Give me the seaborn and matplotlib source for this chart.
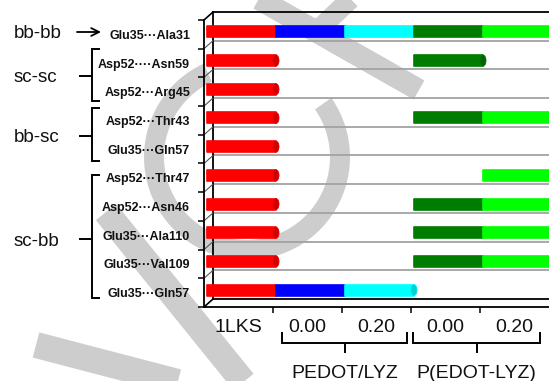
import numpy as np
import pandas as pd
import matplotlib
matplotlib.use("Agg")
import matplotlib.pyplot as plt
from matplotlib.transforms import ScaledTranslation
from matplotlib.patches import Ellipse, Wedge
from matplotlib.lines import Line2D
from matplotlib.ticker import FixedLocator
import seaborn as sns

# Hydrogen bonds (donor···acceptor), listed top to bottom
bond_labels = ["Glu35···Ala31", "Asp52····Asn59", "Asp52···Arg45", "Asp52···Thr43",
               "Glu35···Gln57", "Asp52···Thr47", "Asp52···Asn46", "Glu35···Ala110",
               "Glu35···Val109", "Glu35···Gln57"]

# Bond present (1) or absent (0) in each structure / field strength
lks_1 = [1, 1, 1, 1, 1, 1, 1, 1, 1, 1]
pedot_lyz_000 = [1, 0, 0, 0, 0, 0, 0, 0, 0, 1]
pedot_lyz_020 = [1, 0, 0, 0, 0, 0, 0, 0, 0, 1]
p_edot_lyz_000 = [1, 1, 0, 1, 0, 0, 1, 1, 1, 0]
p_edot_lyz_020 = [1, 0, 0, 1, 0, 1, 1, 1, 1, 0]

segment_labels = ["1LKS", "0.00", "0.20", "0.00", "0.20"]
group_labels = ["PEDOT/LYZ", "P(EDOT-LYZ)"]
bond_types = ["bb-bb", "sc-sc", "bb-sc", "sc-bb"]
segment_colors = ["#ff0000", "#0000ff", "#00ffff", "#007d00", "#00ff00"]

series = [lks_1, pedot_lyz_000, pedot_lyz_020, p_edot_lyz_000, p_edot_lyz_020]
n_rows = len(bond_labels)
n_seg = len(series)

sns.set_theme(style="white")
plt.rcParams["font.family"] = ["Liberation Sans", "DejaVu Sans"]

W, H = 549, 381
DPI = 100
fig = plt.figure(figsize=(W / DPI, H / DPI), dpi=DPI)
fig.patch.set_facecolor("white")


def fx(px):
    return px / W


def fy(py):
    return 1 - py / H


# geometry of the pseudo-3D box (pixels)
FRONT_L, FRONT_T, FRONT_B = 204, 20, 307
UNIT = 69.0
XMAX = 5.3
DEPTH_X, DEPTH_Y = 9, 8
BAR_DX, BAR_DY = 3, 2.5
ROW_PX = (FRONT_B - FRONT_T) / n_rows
ax_w = UNIT * XMAX / W
ax_h = (FRONT_B - FRONT_T) / H

# faint background strokes
bg = fig.add_axes([0, 0, 1, 1], zorder=0)
bg.set_xlim(0, W)
bg.set_ylim(0, H)
bg.axis("off")
wm = "#cdcdcd"
for (x0, y0), (x1, y1), wpx in [((243, -10), (419, 90), 22),
                                ((358, -8), (318, 30), 20),
                                ((106, 212), (258, 400), 26),
                                ((36, 345), (262, 404), 26)]:
    bg.add_line(Line2D([x0, x1], [H - y0, H - y1], lw=wpx * 0.72, color=wm,
                       solid_capstyle="butt"))
bg.add_patch(Wedge((247, H - 157), 103, 115, 395, width=20, color=wm, lw=0))

# back wall
axb = fig.add_axes([fx(FRONT_L + DEPTH_X), fy(FRONT_B - DEPTH_Y), ax_w, ax_h], zorder=1)
axb.patch.set_visible(False)
axb.set_xlim(0, XMAX)
axb.set_ylim(n_rows - 0.5, -0.5)
axb.set_xticks([])
axb.set_yticks([])
for side in ["top", "left", "bottom"]:
    axb.spines[side].set_color("black")
    axb.spines[side].set_linewidth(1.3)
axb.spines["right"].set_visible(False)
axb.hlines(np.arange(0.5, n_rows - 0.5), 0, XMAX, color="#a2a2a2", lw=1.3)

# front frame with the bars
ax = fig.add_axes([fx(FRONT_L), fy(FRONT_B), ax_w, ax_h], zorder=2)
ax.patch.set_visible(False)

for seg in range(n_seg):
    df = pd.DataFrame({"row": list(range(n_rows)), "present": series[seg]})
    df = df[df["present"] > 0]
    sns.barplot(data=df, x="present", y="row", orient="y", order=list(range(n_rows)),
                width=11 / ROW_PX, color=segment_colors[seg], saturation=1,
                errorbar=None, left=seg, ax=ax, linewidth=1.2,
                edgecolor=segment_colors[seg])

shift = ax.transData + ScaledTranslation(BAR_DX / DPI, BAR_DY / DPI, fig.dpi_scale_trans)
for p in ax.patches:
    p.set_transform(shift)
    p.set_joinstyle("round")

# cylinder end caps at the right end of each run of bars
mat = np.array(series).T
for r in range(n_rows):
    for s in range(n_seg):
        if mat[r, s] and (s == n_seg - 1 or not mat[r, s + 1]):
            base = np.array(matplotlib.colors.to_rgb(segment_colors[s]))
            ax.add_patch(Ellipse((s + 1, r), 6 / UNIT, 11 / ROW_PX, transform=shift,
                                 facecolor=base * 0.82, edgecolor=base * 0.9,
                                 lw=0.6, zorder=3))

ax.set_xlim(0, XMAX)
ax.set_ylim(n_rows - 0.5, -0.5)
ax.set_xlabel("")
ax.set_ylabel("")
for side in ["top", "right"]:
    ax.spines[side].set_visible(False)
for side in ["left", "bottom"]:
    ax.spines[side].set_color("black")
    ax.spines[side].set_linewidth(1.3)

ax.yaxis.set_major_locator(FixedLocator(list(range(n_rows))))
ax.set_yticklabels(bond_labels, fontsize=9, fontweight="bold", color="#111111")
ax.yaxis.set_minor_locator(FixedLocator(list(np.arange(-0.5, n_rows, 1.0))))
ax.tick_params(axis="y", which="major", length=0, pad=10)
ax.tick_params(axis="y", which="minor", length=4, width=1.1, color="black", direction="out", left=True)

ax.xaxis.set_major_locator(FixedLocator(list(range(1, n_seg))))
ax.xaxis.set_minor_locator(FixedLocator(list(np.arange(0.5, n_seg, 1.0))))
ax.set_xticklabels([], minor=False)
ax.set_xticklabels(segment_labels, minor=True, fontsize=14, color="#111111")
ax.tick_params(axis="x", which="major", length=4, width=1.1, color="black", direction="out", bottom=True)
ax.tick_params(axis="x", which="minor", length=0, pad=9)

# depth edges joining the front frame to the back wall
ddx = DEPTH_X / UNIT
ddy = DEPTH_Y / ROW_PX
for b in np.arange(-0.5, n_rows, 1.0):
    edge = abs(b + 0.5) < 1e-9 or abs(b - (n_rows - 0.5)) < 1e-9
    ax.add_line(Line2D([0, ddx], [b, b - ddy], color="black" if edge else "#555555",
                       lw=1.2 if edge else 0.8, clip_on=False))

# annotation layer in pixel coordinates
ann = fig.add_axes([0, 0, 1, 1], zorder=3)
ann.patch.set_visible(False)
ann.set_xlim(0, W)
ann.set_ylim(H, 0)
ann.axis("off")

kw_line = dict(color="black", lw=1.4, solid_capstyle="butt", solid_joinstyle="miter")
type_baselines = [38, 82, 142, 246]
for label, yb in zip(bond_types, type_baselines):
    ann.text(14, yb, label, fontsize=13.5, ha="left", va="baseline", color="#111111")

ann.annotate("", xy=(101, 32), xytext=(77, 32),
             arrowprops=dict(arrowstyle="->", lw=1.3, color="black",
                             mutation_scale=14, shrinkA=0, shrinkB=0))

for top, bot, stem in [(49, 101, 76), (108, 161, 136), (175, 298, 239)]:
    ann.plot([100, 92, 92, 100], [top, top, bot, bot], **kw_line)
    ann.plot([79, 92], [stem, stem], **kw_line)

for x0, x1, label in [(282, 407, group_labels[0]), (413, 540, group_labels[1])]:
    ann.plot([x0, x0, x1, x1], [332, 343, 343, 332], **kw_line)
    xm = (x0 + x1) / 2
    ann.plot([xm, xm], [343, 353], **kw_line)
    ann.text(xm, 378, label, fontsize=14, ha="center", va="baseline", color="#111111")

fig.savefig("out.png", dpi=DPI)
